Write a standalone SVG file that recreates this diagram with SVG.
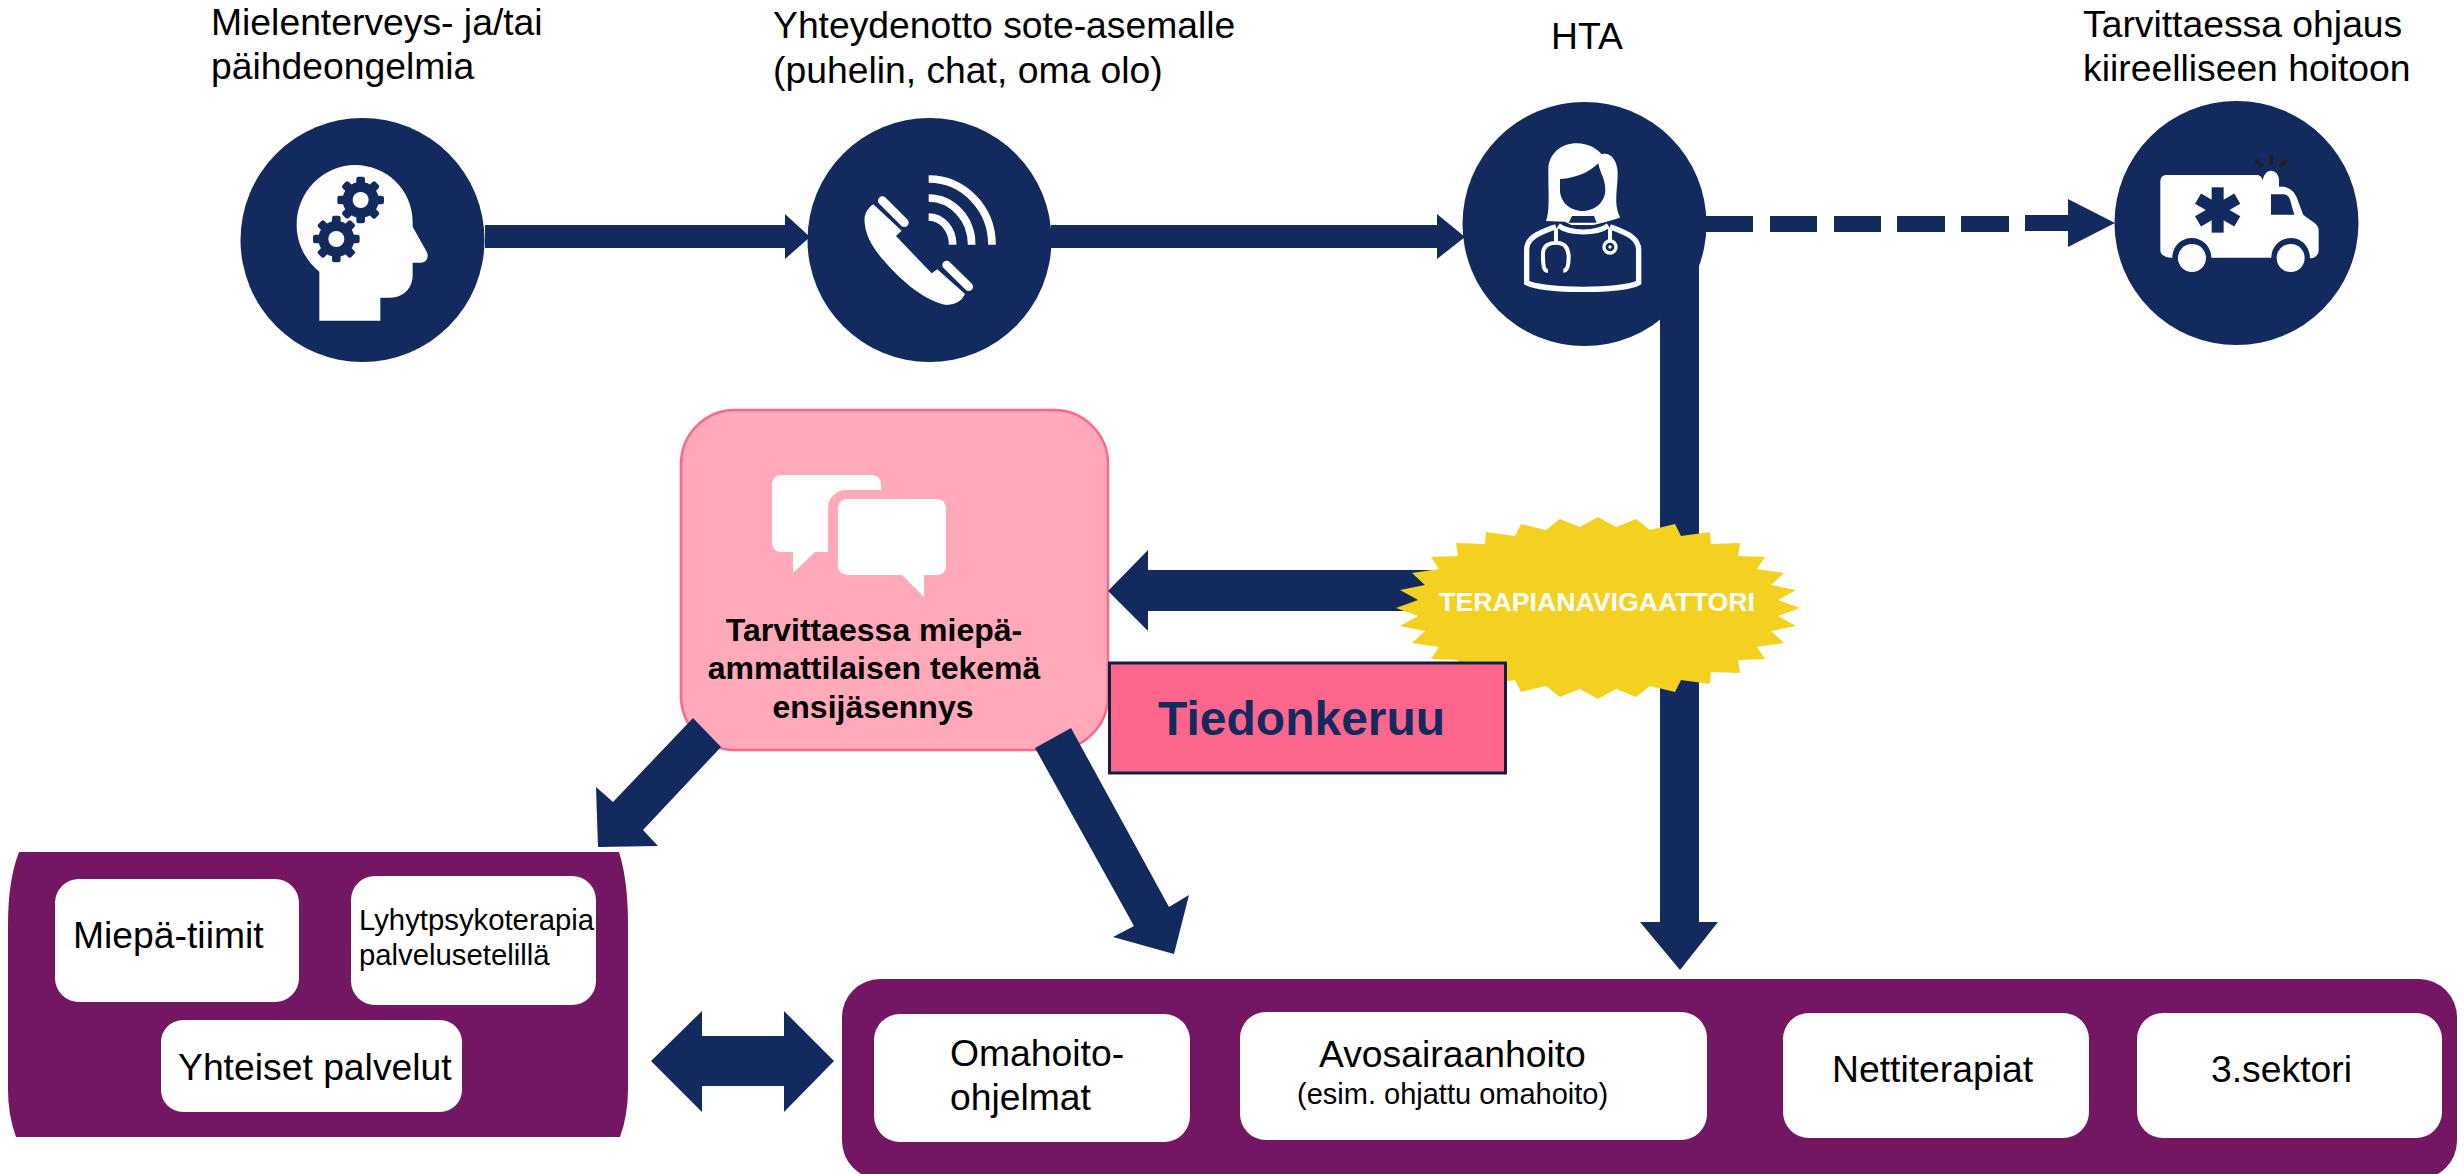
<svg xmlns="http://www.w3.org/2000/svg" xmlns:xlink="http://www.w3.org/1999/xlink" width="2464" height="1174" viewBox="0 0 2464 1174">
<style>
text{font-family:"Liberation Sans",Arial,sans-serif;fill:#000}
.t37{font-size:37.3px}
.navy{fill:#132A5F}
.white{fill:#fff}
.box{fill:#fff}
.purple{fill:#731663}
.ln{fill:none;stroke:#fff}
</style>
<defs>
<g id="gear">
<circle r="54" class="navy"/>
<g class="navy">
<rect x="-13" y="-70" width="26" height="140" rx="7"/>
<rect x="-13" y="-70" width="26" height="140" rx="7" transform="rotate(45)"/>
<rect x="-13" y="-70" width="26" height="140" rx="7" transform="rotate(90)"/>
<rect x="-13" y="-70" width="26" height="140" rx="7" transform="rotate(135)"/>
</g>
<circle r="24" class="white"/>
</g>
</defs>
<rect width="2464" height="1174" fill="#fff"/>

<g id="node-ensijasennys">
<rect x="681" y="410" width="427" height="340" rx="54" ry="54" fill="#FFA9BA" stroke="#FF668C" stroke-width="2.5"/>
<path class="white" d="M781,475H871Q881,475 881,485V552H815L793,573V552H781Q772,552 772,540V487Q772,475 781,475Z"/>
<rect x="828" y="490" width="70" height="100" rx="18" fill="#FFA9BA"/>
<path class="white" d="M847,499H936Q946,499 946,509V566Q946,575 936,575H924V597L902,575H849Q838,575 838,564V510Q838,499 847,499Z"/>
<text x="874" y="641" text-anchor="middle" font-size="32" font-weight="700">Tarvittaessa miepä-</text>
<text x="874" y="679" text-anchor="middle" font-size="32" font-weight="700">ammattilaisen tekemä</text>
<text x="873" y="718" text-anchor="middle" font-size="32" font-weight="700">ensijäsennys</text>
</g>

<g id="connectors" class="navy">
<polygon id="c-head-phone" points="485,225 785,225 785,214 810,237 785,259 785,248 485,248"/>
<polygon id="c-phone-hta" points="1051,225 1437,225 1437,214 1465,237 1437,259 1437,248 1051,248"/>
<g id="c-hta-ambulance">
<rect x="1706" y="216" width="47" height="16"/>
<rect x="1770" y="216" width="47" height="16"/>
<rect x="1834" y="216" width="47" height="16"/>
<rect x="1897" y="216" width="48" height="16"/>
<rect x="1961" y="216" width="48" height="16"/>
<polygon points="2025,215 2068,215 2068,199 2115,223 2068,247 2068,231 2025,231"/>
</g>
<polygon id="c-hta-services" points="1660,262 1699,262 1699,922 1718,922 1680,970 1640,922 1660,922"/>
<polygon id="c-navigator-ensi" points="1440,570 1148,570 1148,550 1108,591 1148,631 1148,611 1440,611"/>
<polygon id="c-ensi-left" points="693,718 721,747 643,830 658,846 598,847 596,787 613,802"/>
<polygon id="c-ensi-services" points="1071,728 1169,907 1189,895 1174,954 1113,937 1134,926 1035,748"/>
<polygon id="c-both" points="651,1061 702,1011 702,1036 784,1036 784,1011 834,1061 784,1112 784,1086 702,1086 702,1112"/>
</g>

<g id="node-head">
<text class="t37" x="211" y="35">Mielenterveys- ja/tai</text>
<text class="t37" x="211" y="79">päihdeongelmia</text>
<circle class="navy" cx="362.5" cy="240" r="122"/>
<g transform="translate(230 110) scale(.3333)">
<path class="white" d="M268,632V485C225,450 200,400 200,345C200,245 280,165 375,165C470,165 548,240 548,335V350L590,425C598,440 590,458 572,458H548V495C548,535 520,563 480,563H451V632Z"/>
<use xlink:href="#gear" href="#gear" transform="translate(392 270)"/>
<use xlink:href="#gear" href="#gear" transform="translate(319 387)"/>
</g>
</g>

<g id="node-phone">
<text class="t37" x="773" y="38">Yhteydenotto sote-asemalle</text>
<text class="t37" x="773" y="83">(puhelin, chat, oma olo)</text>
<circle class="navy" cx="929.5" cy="240" r="122"/>
<g transform="translate(800 110) scale(.3333)">
<path class="white" d="M220,283L305,362L288,378L395,490L412,478L495,552C485,572 470,583 440,585C380,575 310,520 250,450C215,410 198,375 195,345C190,320 198,298 220,283Z"/>
<path d="M247,272L313,338M440,465L506,530" class="ln" stroke-width="26" stroke-linecap="round"/>
<path d="M386,207A190,197 0 0 1 576,404M386,264A129,140 0 0 1 515,404M386,321A72,83 0 0 1 458,404" class="ln" stroke-width="23"/>
</g>
</g>

<g id="node-hta">
<text class="t37" x="1551" y="49">HTA</text>
<circle class="navy" cx="1584.5" cy="224" r="122"/>
<g transform="translate(1450 110) scale(.3333)">
<path class="white" d="M288,333C300,300 295,260 295,180C295,130 335,100 380,100C415,100 440,115 455,133C480,125 503,150 503,190C503,240 490,280 510,323L470,335L430,345H365L345,335Z"/>
<path class="navy" d="M330,207C380,205 420,185 445,160C450,190 466,205 466,240C466,275 435,303 398,303C360,303 330,275 330,240Z"/>
<path class="navy" d="M366,318H432L440,338H356Z"/>
<path class="ln" stroke-width="15" d="M325,347C360,372 440,372 475,347"/>
<path class="ln" stroke-width="16" d="M318,350C270,368 230,380 230,420V518C280,545 520,545 566,518V420C566,380 525,368 480,350"/>
<path class="ln" stroke-width="12" d="M318,355V398M294,482H290Q278,482 279,430C280,405 300,398 318,398C340,398 355,410 356,440Q356,482 340,482M480,355V395"/>
<circle class="white" cx="480" cy="411" r="23"/>
<circle class="navy" cx="480" cy="411" r="13"/>
<circle class="white" cx="480" cy="411" r="5"/>
</g>
</g>

<g id="node-ambulance">
<text class="t37" x="2083" y="37">Tarvittaessa ohjaus</text>
<text class="t37" x="2083" y="81">kiireelliseen hoitoon</text>
<circle class="navy" cx="2236.5" cy="223" r="122"/>
<g transform="translate(2110 110) scale(.3333)">
<path class="white" d="M170,195H440C450,195 458,203 458,213C460,195 470,182 483,182C497,182 507,195 507,210V230H515C535,230 552,243 560,262L580,315L615,340C622,347 626,352 626,362V420C626,435 615,445 600,445C600,410 575,384 543,384C510,384 484,410 484,443H304C304,410 278,384 245,384C212,384 187,410 187,443C165,443 151,435 151,420V215C151,203 158,195 170,195Z"/>
<path class="navy" d="M483,253H520C532,253 538,262 541,272L553,314H483Z"/>
<g class="navy" transform="translate(323 300)">
<rect x="-18" y="-68" width="36" height="136"/>
<rect x="-18" y="-68" width="36" height="136" transform="rotate(60)"/>
<rect x="-18" y="-68" width="36" height="136" transform="rotate(120)"/>
</g>
<circle class="white" cx="246" cy="444" r="42"/>
<circle class="white" cx="542" cy="444" r="42"/>
<path d="M483,135V165M437,150L458,170M530,150L510,170" fill="none" stroke="#231F20" stroke-width="13"/>
</g>
</g>

<g id="node-navigator">
<polygon fill="#F4D120" transform="translate(1598 608)" points="0,-91 18,-81 38,-89 52,-78 77,-84 83,-72 112,-76 113,-64 142,-65 140,-52 167,-51 159,-39 186,-35 173,-23 198,-18 180,-8 202,0 180,8 198,18 173,23 186,35 159,39 167,51 140,52 142,65 113,64 112,76 83,72 77,84 52,78 38,89 18,81 0,91 -18,81 -38,89 -52,78 -77,84 -83,72 -112,76 -113,64 -142,65 -140,52 -167,51 -159,39 -186,35 -173,23 -198,18 -180,8 -202,0 -180,-8 -198,-18 -173,-23 -186,-35 -159,-39 -167,-51 -140,-52 -142,-65 -113,-64 -112,-76 -83,-72 -77,-84 -52,-78 -38,-89 -18,-81"/>
<text x="1597" y="611" text-anchor="middle" font-size="26.7" font-weight="700" style="fill:#fff">TERAPIANAVIGAATTORI</text>
</g>

<g id="node-tiedonkeruu">
<rect x="1109.5" y="663" width="396" height="110" fill="#FF668C" stroke="#10213F" stroke-width="3"/>
<text x="1158" y="735" font-size="48" font-weight="700" style="fill:#132A5F">Tiedonkeruu</text>
</g>

<g id="node-left-services">
<path class="purple" d="M19,852H619Q628,880 628,925V1090Q628,1115 620,1137H16Q8,1115 8,1090V925Q8,880 19,852Z"/>
<g id="node-miepa"><rect class="box" x="55" y="879" width="244" height="123" rx="24"/>
<text class="t37" x="73" y="948">Miepä-tiimit</text></g>
<g id="node-lyhyt"><rect class="box" x="351" y="876" width="245" height="129" rx="24"/>
<text x="359" y="930" font-size="29.3">Lyhytpsykoterapia</text>
<text x="359" y="965" font-size="29.3">palvelusetelillä</text></g>
<g id="node-yhteiset"><rect class="box" x="161" y="1020" width="301" height="92" rx="22"/>
<text class="t37" x="178" y="1080">Yhteiset palvelut</text></g>
</g>

<g id="node-right-services">
<rect class="purple" x="842" y="979" width="1615" height="200" rx="38"/>
<g id="node-omahoito"><rect class="box" x="874" y="1014" width="316" height="128" rx="26"/>
<text class="t37" x="950" y="1066">Omahoito-</text>
<text class="t37" x="950" y="1110">ohjelmat</text></g>
<g id="node-avo"><rect class="box" x="1240" y="1012" width="467" height="128" rx="26"/>
<text class="t37" x="1319" y="1067">Avosairaanhoito</text>
<text x="1297" y="1104" font-size="29">(esim. ohjattu omahoito)</text></g>
<g id="node-netti"><rect class="box" x="1783" y="1013" width="306" height="125" rx="26"/>
<text class="t37" x="1832" y="1082">Nettiterapiat</text></g>
<g id="node-sektori"><rect class="box" x="2137" y="1013" width="305" height="125" rx="26"/>
<text class="t37" x="2211" y="1082">3.sektori</text></g>
</g>
</svg>
